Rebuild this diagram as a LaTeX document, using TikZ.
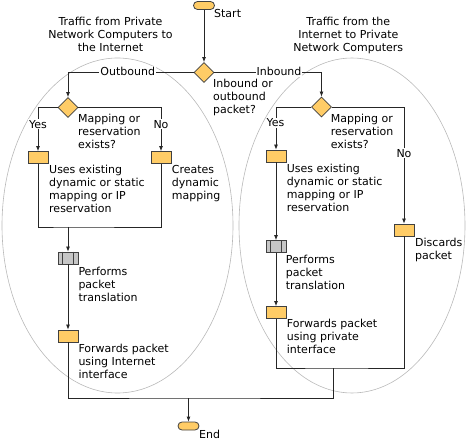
\documentclass[tikz,border=0pt]{standalone}
\usepackage{fontspec}
\setmainfont{DejaVu Sans}
\usetikzlibrary{shapes.geometric,arrows.meta}
\definecolor{boxfill}{RGB}{255,204,102}
\definecolor{edgec}{RGB}{64,64,64}
\begin{document}
\begin{tikzpicture}[x=1pt,y=-1pt,
  box/.style={draw=edgec, fill=boxfill, minimum width=20pt, minimum height=12pt, inner sep=0pt, line width=0.8pt},
  pbox/.style={box, fill=gray!45},
  dec/.style={diamond, aspect=1, draw=edgec, fill=boxfill, minimum width=20pt, minimum height=20pt, inner sep=0pt, line width=0.8pt},
  term/.style={draw=edgec, fill=boxfill, rounded corners=4pt, minimum width=21pt, minimum height=8pt, inner sep=0pt, line width=0.8pt},
  txt/.style={font=\fontsize{11}{13}\selectfont, align=left, inner sep=0pt, anchor=north west},
  ttl/.style={font=\fontsize{11}{13}\selectfont, align=center, inner sep=0pt, anchor=north},
  lbl/.style={font=\fontsize{11}{13}\selectfont, fill=white, inner sep=1pt, anchor=base},
  flow/.style={draw=black!85, line width=0.8pt},
  arr/.style={flow, -{Latex[length=5pt,width=4pt]}},
  oval/.style={draw=gray!55, line width=0.6pt}]
\useasboundingbox (0,0) rectangle (467,444);
% ellipses
\draw[oval] (117.5,225.5) ellipse [x radius=115.5pt, y radius=167.5pt];
\draw[oval] (352,225.5) ellipse [x radius=113pt, y radius=167.5pt];
% titles
\node[ttl] (titleL) at (110.5,15.9) {\strut Traffic from Private\\Network Computers to\\the Internet};
\node[ttl] (titleR) at (348.3,15.9) {\strut Traffic from the\\Internet to Private\\Network Computers};
% terminals and decisions
\node[term] (start) at (204,5.5) {};
\node[txt] (startT) at (214,8.2) {\strut Start};
\node[dec] (d0) at (204,72.5) {};
\node[txt] (d0T) at (213,78.3) {\strut Inbound or\\outbound\\packet?};
\node[dec] (dL) at (68,107.5) {};
\node[txt] (dLT) at (78,113.6) {\strut Mapping or\\reservation\\exists?};
\node[dec] (dR) at (321.5,107) {};
\node[txt] (dRT) at (330.7,113.6) {\strut Mapping or\\reservation\\exists?};
% left boxes
\node[box] (yL) at (38,157.5) {};
\node[txt] (yLT) at (49,163.9) {\strut Uses existing\\dynamic or static\\mapping or IP\\reservation};
\node[box] (nL) at (161,157.5) {};
\node[txt] (nLT) at (171.7,163.9) {\strut Creates\\dynamic\\mapping};
\node[pbox] (gL) at (68,258) {};
\draw[edgec, line width=0.8pt] ([xshift=5pt]gL.north west) -- ([xshift=5pt]gL.south west)
  ([xshift=-5pt]gL.north east) -- ([xshift=-5pt]gL.south east);
\node[txt] (gLT) at (78.3,265.9) {\strut Performs\\packet\\translation};
\node[box] (fL) at (68,336) {};
\node[txt] (fLT) at (78.3,343.2) {\strut Forwards packet\\using Internet\\interface};
% right boxes
\node[box] (yR) at (276,156) {};
\node[txt] (yRT) at (286.7,163.2) {\strut Uses existing\\dynamic or static\\mapping or IP\\reservation};
\node[pbox] (gR) at (276,246.5) {};
\draw[edgec, line width=0.8pt] ([xshift=5pt]gR.north west) -- ([xshift=5pt]gR.south west)
  ([xshift=-5pt]gR.north east) -- ([xshift=-5pt]gR.south east);
\node[txt] (gRT) at (285.7,254.2) {\strut Performs\\packet\\translation};
\node[box] (fR) at (276,312.5) {};
\node[txt] (fRT) at (286.7,318.2) {\strut Forwards packet\\using private\\interface};
\node[box] (dis) at (404,230) {};
\node[txt] (disT) at (415,236.9) {\strut Discards\\packet};
\node[term] (end) at (188.5,426) {};
\node[txt] (endT) at (199,429.2) {\strut End};
% junctions
\coordinate (jL) at (68,227);
\coordinate (jB) at (188.5,398);
\coordinate (jR) at (333,368);
% connectors
\draw[arr] (start) -- (d0);
\draw[arr] (d0.west) -| (dL.north);
\draw[arr] (d0.east) -| (dR.north);
\draw[arr] (dL.west) -| (yL.north);
\draw[arr] (dL.east) -| (nL.north);
\draw[flow] (yL.south) |- (jL) -| (nL.south);
\draw[arr] (jL) -- (gL.north);
\draw[arr] (gL) -- (fL);
\draw[flow] (fL.south) |- (jB) -| (jR);
\draw[arr] (jB) -- (end.north);
\draw[arr] (dR.west) -| (yR.north);
\draw[arr] (dR.east) -| (dis.north);
\draw[arr] (yR) -- (gR);
\draw[arr] (gR) -- (fR);
\draw[flow] (fR.south) |- (jR) -| (dis.south);
% labels on lines
\node[lbl] (outL) at (127.7,75.7) {Outbound};
\node[lbl] (inL) at (279,75.7) {Inbound};
\node[lbl] (yesL) at (38,128.3) {Yes};
\node[lbl] (noL) at (161,128.3) {No};
\node[lbl] (yesR) at (275.5,126.7) {Yes};
\node[lbl] (noR) at (404,157.3) {No};
\end{tikzpicture}
\end{document}
